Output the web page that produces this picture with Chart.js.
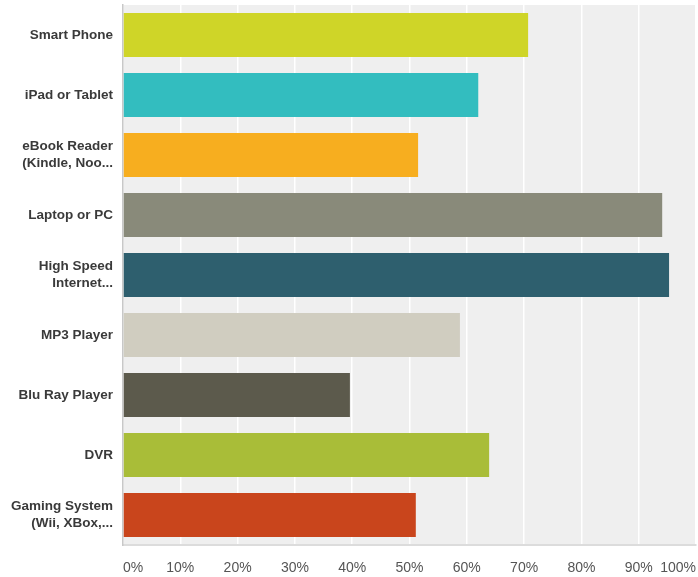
<!DOCTYPE html>
<html>
<head>
<meta charset="utf-8">
<script src="https://cdn.jsdelivr.net/npm/chart.js@4/dist/chart.umd.min.js"></script>
<style>
  html, body { margin: 0; padding: 0; background: #fff; }
  #wrap { width: 698px; height: 577px; }
</style>
</head>
<body>
<div id="wrap"><canvas id="chart"></canvas></div>
<script>
// categories (multi-line labels as arrays)
const categories = [
  'Smart Phone',
  'iPad or Tablet',
  ['eBook Reader', '(Kindle, Noo...'],
  'Laptop or PC',
  ['High Speed', 'Internet...'],
  'MP3 Player',
  'Blu Ray Player',
  'DVR',
  ['Gaming System', '(Wii, XBox,...']
];
// percent of respondents
const values = [70.7, 62.0, 51.5, 94.1, 95.3, 58.8, 39.6, 63.9, 51.1];
const barColors = ['#cfd528', '#33bdbf', '#f7ae1f', '#898a7a', '#2e5f6e', '#d0cdc0', '#5c5a4c', '#a9bd38', '#c9451c'];
const tickValues = [0, 10, 20, 30, 40, 50, 60, 70, 80, 90, 100];

// gray plot background
const plotBg = {
  id: 'plotBg',
  beforeDraw(chart) {
    const a = chart.chartArea, ctx = chart.ctx;
    ctx.save();
    ctx.fillStyle = '#efefef';
    ctx.fillRect(a.left, a.top, a.right - a.left, a.bottom - a.top);
    ctx.restore();
  }
};

new Chart(document.getElementById('chart').getContext('2d'), {
  type: 'bar',
  data: {
    labels: categories,
    datasets: [{
      data: values,
      backgroundColor: barColors,
      borderWidth: 0,
      categoryPercentage: 1,
      barPercentage: 0.735
    }]
  },
  options: {
    indexAxis: 'y',
    responsive: true,
    maintainAspectRatio: false,
    animation: false,
    layout: { padding: { top: 5, right: 2, left: 0, bottom: 0 } },
    plugins: {
      legend: { display: false },
      tooltip: { enabled: false }
    },
    scales: {
      x: {
        min: 0,
        max: 100,
        afterBuildTicks(scale) {
          scale.ticks = tickValues.map(v => ({ value: v }));
        },
        afterFit(scale) {
          scale.height = 32;
          scale.paddingLeft = 0;
          scale.paddingRight = 0;
        },
        grid: { color: '#ffffff', lineWidth: 1.5, drawTicks: false },
        border: { display: true, color: '#dcdcdc', width: 2 },
        ticks: {
          padding: 15,
          align: 'inner',
          color: '#555555',
          font: { family: 'Liberation Sans, Arial, sans-serif', size: 14 },
          callback: v => v + '%'
        }
      },
      y: {
        afterFit(scale) {
          scale.width = 123;
          scale.paddingTop = 0;
          scale.paddingBottom = 0;
        },
        grid: { display: false, drawTicks: false },
        border: { display: true, color: '#c8c8c8', width: 1.5 },
        ticks: {
          padding: 10,
          color: '#3a3a3a',
          font: { family: 'Liberation Sans, Arial, sans-serif', size: 13.5, weight: 'bold', lineHeight: 1.25 }
        }
      }
    }
  },
  plugins: [plotBg]
});
</script>
</body>
</html>
